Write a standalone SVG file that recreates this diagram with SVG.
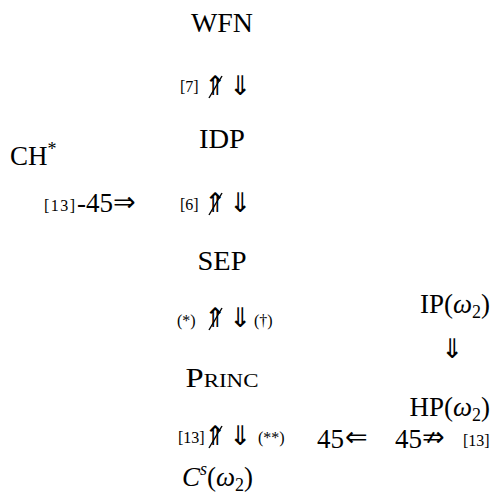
<svg xmlns="http://www.w3.org/2000/svg" width="494" height="494" viewBox="0 0 494 494" font-family="'Liberation Serif', 'Times New Roman', serif">
<style>
.n{font-size:27px}
.s{font-size:16px}
.a{font-family:'DejaVu Sans', sans-serif;font-size:27px}
.i{font-style:italic}
.slash{stroke:#000;stroke-width:1.4;fill:none}
</style>
<rect width="494" height="494" fill="#fff"/>
<g id="WFN"><text class="n" x="222" y="32" text-anchor="middle" textLength="62" lengthAdjust="spacingAndGlyphs">WFN</text></g>
<g id="IDP"><text class="n" x="222" y="148" text-anchor="middle" textLength="46" lengthAdjust="spacingAndGlyphs">IDP</text></g>
<g id="CH"><text class="n" x="10" y="165">CH<tspan font-size="18" dy="-10">*</tspan></text></g>
<g id="SEP"><text class="n" x="222" y="270" text-anchor="middle" textLength="49" lengthAdjust="spacingAndGlyphs">SEP</text></g>
<g id="PRINC"><text class="n" x="222" y="387" text-anchor="middle" font-variant="small-caps" textLength="73" lengthAdjust="spacingAndGlyphs">Princ</text></g>
<g id="Cs"><text class="n" x="182" y="486">
<tspan class="i">C</tspan><tspan class="i" font-size="18" dy="-11">s</tspan><tspan dy="11">(</tspan><tspan class="i">ω</tspan><tspan font-size="18" dy="5">2</tspan><tspan dy="-5">)</tspan></text></g>
<g id="IP"><text class="n" x="490" y="313" text-anchor="end">IP(<tspan class="i">ω</tspan><tspan font-size="18" dy="5">2</tspan><tspan dy="-5">)</tspan></text></g>
<g id="HP"><text class="n" x="490" y="416" text-anchor="end">HP(<tspan class="i">ω</tspan><tspan font-size="18" dy="5">2</tspan><tspan dy="-5">)</tspan></text></g>
<g id="connectors">
<text class="s" x="180" y="92">[7]</text>
<text class="a" x="204" y="95">⇑</text>
<line class="slash" x1="209" y1="98" x2="222" y2="76"/>
<text class="a" x="229" y="95">⇓</text>

<text class="s" x="44" y="211" textLength="31">[13]</text>
<text class="n" x="77" y="212">-45</text>
<text class="a" x="113" y="211">⇒</text>

<text class="s" x="180" y="210">[6]</text>
<text class="a" x="204" y="212">⇑</text>
<line class="slash" x1="209" y1="215" x2="222" y2="193"/>
<text class="a" x="229" y="212">⇓</text>

<text class="s" x="177" y="326">(*)</text>
<text class="a" x="204" y="327">⇑</text>
<line class="slash" x1="209" y1="330" x2="222" y2="308"/>
<text class="a" x="229" y="327">⇓</text>
<text class="s" x="254" y="326">(†)</text>

<text class="a" x="441" y="358">⇓</text>

<text class="s" x="178" y="443">[13]</text>
<text class="a" x="204" y="445">⇑</text>
<line class="slash" x1="209" y1="448" x2="222" y2="426"/>
<text class="a" x="229" y="445">⇓</text>
<text class="s" x="258" y="443">(**)</text>

<text class="n" x="317" y="448">45</text>
<text class="a" x="345" y="446">⇐</text>
<text class="n" x="395" y="448">45</text>
<text class="a" x="422" y="446">⇏</text>
<text class="s" x="463" y="446">[13]</text>
</g>
</svg>
